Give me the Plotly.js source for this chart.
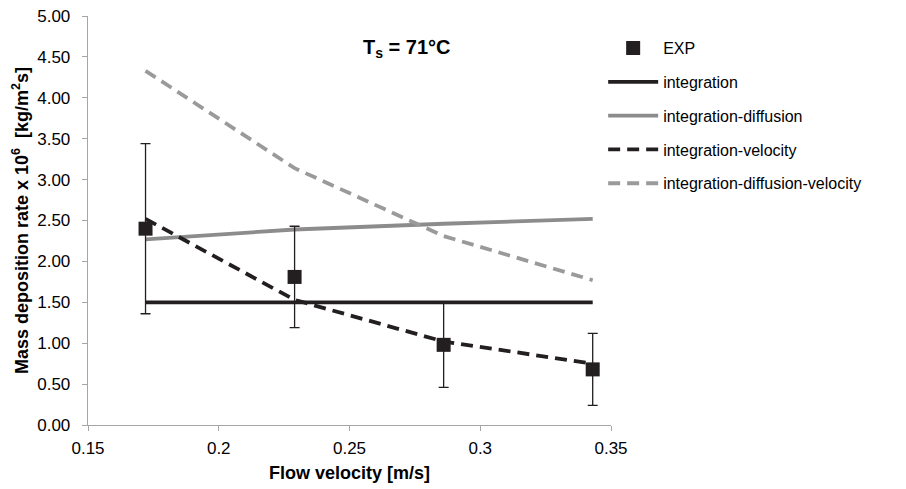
<!DOCTYPE html>
<html>
<head>
<meta charset="utf-8">
<script src="https://cdn.plot.ly/plotly-3.0.1.min.js"></script>
<style>html,body{margin:0;padding:0;background:#fff;}#chart{width:906px;height:489px;}</style>
</head>
<body>
<div id="chart"></div>
<script>
const velocity = [0.172, 0.229, 0.286, 0.343];
const expRate = [2.40, 1.81, 0.98, 0.68];
const expErr = [1.04, 0.62, 0.52, 0.44];
const integration = [1.50, 1.50, 1.50, 1.50];
const integrationDiffusion = [2.27, 2.39, 2.46, 2.52];
const integrationVelocity = [2.52, 1.53, 1.02, 0.75];
const integrationDiffusionVelocity = [4.33, 3.14, 2.31, 1.77];
const yTicks = [0, 0.5, 1, 1.5, 2, 2.5, 3, 3.5, 4, 4.5, 5];
const yTickText = yTicks.map(v => v.toFixed(2));
const xTicks = [0.15, 0.2, 0.25, 0.3, 0.35];
const xTickText = ['0.15', '0.2', '0.25', '0.3', '0.35'];

const dark = '#231f20';
const grey = '#8c8c8c';
const greyDash = '#9a9a9a';

const traces = [
  {x: velocity, y: integration, name: 'integration', mode: 'lines', legendgroup: 'b', legendrank: 2,
   line: {color: dark, width: 3.8}},
  {x: velocity, y: integrationDiffusion, name: 'integration-diffusion', mode: 'lines', legendgroup: 'c', legendrank: 3,
   line: {color: grey, width: 3.8}},
  {x: velocity, y: integrationVelocity, name: 'integration-velocity', mode: 'lines', legendgroup: 'd', legendrank: 4,
   line: {color: dark, width: 3.8, dash: '12px,7px'}},
  {x: velocity, y: integrationDiffusionVelocity, name: 'integration-diffusion-velocity', mode: 'lines', legendgroup: 'e', legendrank: 5,
   line: {color: greyDash, width: 3.8, dash: '12px,7px'}},
  {x: velocity, y: expRate, name: 'EXP', mode: 'markers', legendgroup: 'a', legendrank: 1,
   marker: {symbol: 'square', size: 14, color: dark},
   error_y: {type: 'data', array: expErr, visible: true, color: dark, thickness: 1.3, width: 5}}
];

const layout = {
  width: 906, height: 489,
  margin: {l: 88, r: 295, t: 16, b: 64},
  paper_bgcolor: '#fff', plot_bgcolor: '#fff',
  font: {family: 'Liberation Sans, Arial, sans-serif', size: 17, color: '#000'},
  showlegend: true,
  legend: {x: 0.985, xanchor: 'left', y: 0.963, yanchor: 'top', tracegroupgap: 10,
           font: {size: 16, color: '#000'}, itemwidth: 50, bgcolor: 'rgba(0,0,0,0)'},
  xaxis: {range: [0.15, 0.35], tickvals: xTicks, ticktext: xTickText, showgrid: false, zeroline: false,
          showline: true, linecolor: '#a6a6a6', linewidth: 1.3, ticks: 'outside', ticklen: 5, tickcolor: '#a6a6a6',
          ticklabelstandoff: 2,
          title: {text: '<b>Flow velocity [m/s]</b>', font: {size: 18}, standoff: 9}},
  yaxis: {range: [0, 5], tickvals: yTicks, ticktext: yTickText, showgrid: false, zeroline: false,
          showline: true, linecolor: '#a6a6a6', linewidth: 1.3, ticks: 'outside', ticklen: 5, tickcolor: '#a6a6a6',
          ticklabelstandoff: 8,
          title: {text: '<b>Mass deposition rate x 10<sup>6</sup>  [kg/m<sup>2</sup>s]</b>', font: {size: 18}, standoff: 4}},
  annotations: [{text: '<b>T<sub>s</sub> = 71°C</b>', xref: 'paper', yref: 'paper', x: 0.698, y: 0.955,
                 showarrow: false, font: {size: 20}}]
};

Plotly.newPlot('chart', traces, layout, {displayModeBar: false, staticPlot: true});
</script>
</body>
</html>
